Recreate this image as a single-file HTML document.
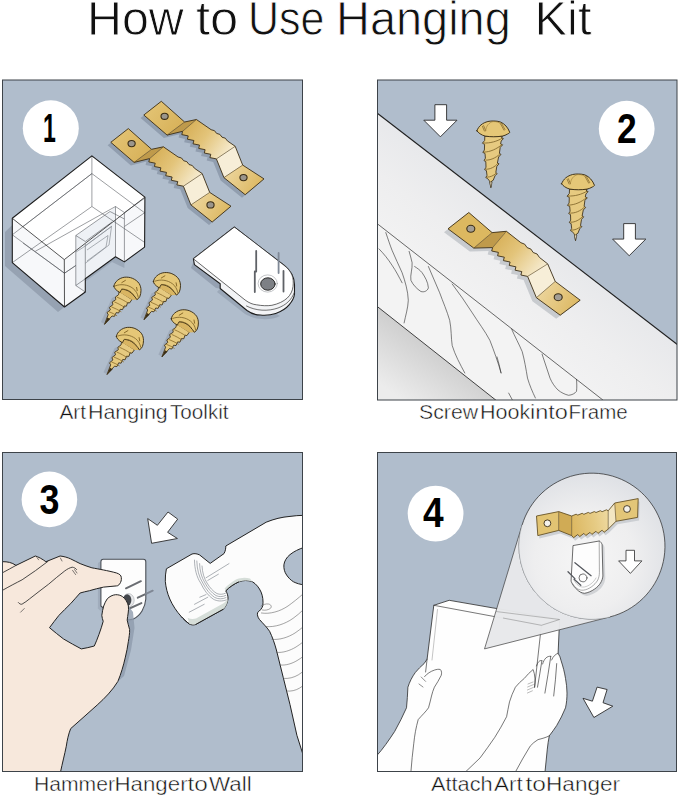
<!DOCTYPE html>
<html><head><meta charset="utf-8"><title>How to Use Hanging Kit</title>
<style>
html,body{margin:0;padding:0;background:#fff;}
body{width:679px;height:797px;overflow:hidden;font-family:"Liberation Sans",sans-serif;}
svg{display:block;position:absolute;left:0;top:0;}
.t{font-family:"Liberation Sans",sans-serif;fill:#111;}
.num{font-family:"Liberation Sans",sans-serif;font-weight:bold;fill:#000;}
.cap{font-family:"Liberation Sans",sans-serif;font-size:21px;fill:#111;stroke:#fff;stroke-width:0.45px;paint-order:fill stroke;}
.ttl{font-family:"Liberation Sans",sans-serif;font-size:48.5px;fill:#111;stroke:#fff;stroke-width:0.9px;paint-order:fill stroke;}
</style></head>
<body>
<svg width="679" height="797" viewBox="0 0 679 797">
<defs>
<clipPath id="c1"><rect x="2.5" y="80" width="300" height="319.5"/></clipPath>
<clipPath id="c2"><rect x="377.5" y="80" width="299.5" height="320"/></clipPath>
<clipPath id="c3"><rect x="2.5" y="452.5" width="300" height="319"/></clipPath>
<clipPath id="c4"><rect x="377.5" y="452.5" width="299" height="319"/></clipPath>
<linearGradient id="gmid" gradientUnits="userSpaceOnUse" x1="185" y1="125" x2="228" y2="155"><stop offset="0" stop-color="#d6ae55"/><stop offset="0.45" stop-color="#e3c47a"/><stop offset="1" stop-color="#f6ebcf"/></linearGradient>
<linearGradient id="gtab" gradientUnits="userSpaceOnUse" x1="228" y1="172" x2="258" y2="190"><stop offset="0" stop-color="#ecd49a"/><stop offset="1" stop-color="#dcb862"/></linearGradient>
<linearGradient id="gmidC" gradientUnits="userSpaceOnUse" x1="495" y1="235" x2="540" y2="272"><stop offset="0" stop-color="#d6ae55"/><stop offset="0.45" stop-color="#e3c47a"/><stop offset="1" stop-color="#f6ebcf"/></linearGradient>
<linearGradient id="gtabC" gradientUnits="userSpaceOnUse" x1="540" y1="292" x2="575" y2="312"><stop offset="0" stop-color="#ecd49a"/><stop offset="1" stop-color="#dcb862"/></linearGradient>
<linearGradient id="gframe" gradientUnits="userSpaceOnUse" x1="560" y1="190" x2="440" y2="345"><stop offset="0" stop-color="#e1e3e7"/><stop offset="0.5" stop-color="#eeeeef"/><stop offset="1" stop-color="#f6f6f6"/></linearGradient>
<linearGradient id="glow" gradientUnits="userSpaceOnUse" x1="430" y1="345" x2="395" y2="395"><stop offset="0" stop-color="#cfcfcf"/><stop offset="1" stop-color="#ececec"/></linearGradient>
<linearGradient id="gmidD" gradientUnits="userSpaceOnUse" x1="572" y1="525" x2="610" y2="518"><stop offset="0" stop-color="#dcb862"/><stop offset="0.6" stop-color="#e6cb84"/><stop offset="1" stop-color="#efdaa2"/></linearGradient>
<radialGradient id="gcirc" gradientUnits="userSpaceOnUse" cx="585" cy="560" r="85"><stop offset="0" stop-color="#f6f6f6"/><stop offset="0.6" stop-color="#eeeeef"/><stop offset="1" stop-color="#e0e2e6"/></radialGradient>
<linearGradient id="gtabL" gradientUnits="userSpaceOnUse" x1="150" y1="108" x2="178" y2="130"><stop offset="0" stop-color="#e2c272"/><stop offset="1" stop-color="#d8b25a"/></linearGradient>
</defs>
<rect width="679" height="797" fill="#fff"/>
<!-- TITLE -->
<g id="title">
<text class="ttl" x="87" y="34.5" textLength="96.71" lengthAdjust="spacingAndGlyphs">How</text>
<text class="ttl" x="196" y="34.5" textLength="42.28" lengthAdjust="spacingAndGlyphs">to</text>
<text class="ttl" x="248.0" y="34.5" textLength="76.47" lengthAdjust="spacingAndGlyphs">Use</text>
<text class="ttl" x="336" y="34.5" textLength="174.83" lengthAdjust="spacingAndGlyphs">Hanging</text>
<text class="ttl" x="534.5" y="34.5" textLength="56.99" lengthAdjust="spacingAndGlyphs">Kit</text>
</g>

<!-- PANEL 1 -->
<g id="p1" clip-path="url(#c1)">
<rect x="2.5" y="80" width="300" height="319.5" fill="#b0bdcc"/>
<!--P1-BOX-->
<!-- box shadow -->
<path d="M12.3,225 L5,232 L5,266 L58,312 L64.5,307 L12.3,262.6 Z" fill="#8d99aa" opacity="0.75"/>
<path d="M85.3,292 L82,296 L82,284 L112,262 L124.4,268 L124.4,262 L115.5,256.7 L85.3,278.8 Z" fill="#96a2b3" opacity="0.8"/>
<!-- box body -->
<g stroke-linejoin="round">
<path d="M91.9,155.9 L12.3,218.3 L12.3,262.6 L64.5,307 L85.3,292 L85.3,278.8 L115.5,256.7 L124.4,261.9 L144.6,247.1 L144.9,197.1 Z" fill="#f7f8fa"/>
<!-- top face -->
<path d="M91.9,155.9 L12.3,218.3 L64.3,259.6 L144.9,197.1 Z" fill="#ffffff"/>
<!-- notch interior tint -->
<path d="M75.8,235.5 L110.5,211 L115.5,206.6 L115.5,256.7 L85.3,278.8 L85.3,292 L75.8,285.5 Z" fill="#eef1f5"/>
<!-- thin wireframe lines -->
<g fill="none" stroke="#4b4f55" stroke-width="0.55">
<path d="M91.9,155.9 V206.5 L12.3,262.6 M91.9,206.5 L144.6,242.4"/>
<path d="M91.9,173.6 L12.3,234.8 M91.9,173.6 L144.9,213"/>
<path d="M23,226.5 L91.9,173.6"/>
<path d="M12.3,234.8 L64.5,273.2 L75.8,265.5"/>
<path d="M64.5,273.2 L75.8,265.5"/>
<path d="M23,243 L64.5,273.2"/>
<path d="M35.3,251.3 L115.5,206.5 M115.5,206.5 L124.4,212.5 L144.9,198 M115.5,206.5 V256.7 M124.4,212.5 V261.9 M124.4,226.5 L144.6,212.8"/>
<path d="M75.8,235.5 V285.5 L85.3,292 M75.8,285.5 L85.3,278.8 M85.3,244 V278.8"/>
<path d="M75.8,235.5 L85.3,241.5 L112,222 M75.8,235.5 L110,211.5 L124.4,219"/>
<path d="M64.5,259.6 L91.9,206.5" opacity="0.0"/>
<path d="M12.3,262.6 L91.9,206.5" opacity="0"/>
</g>
<!-- inner plate -->
<g fill="none" stroke="#8a8f96" stroke-width="0.7">
<path d="M85,246 L111.5,226.5 L109,245 L85,263.5"/>
<path d="M87,250 L108,235.5 L106,247 L87,261"/>
<path d="M76,252 L85.3,246 L112,226"/>
</g>
<!-- heavy outline -->
<path d="M91.9,155.9 L12.3,218.3 L12.3,262.6 L64.5,307 L85.3,292 L85.3,278.8 L115.5,256.7 L124.4,261.9 L144.6,247.1 L144.9,197.1 Z" fill="none" stroke="#1c1c1c" stroke-width="1.1"/>
<path d="M12.3,218.3 L64.3,259.6 L144.9,197.1 M64.3,259.6 L64.5,307" fill="none" stroke="#2a2a2a" stroke-width="0.8"/>
</g>
<!--P1-HANGERS-->
<g id="hangerA">
<path d="M143.8,115.0 L161.3,101.3 L184.6,122.0 L196.4,119.5 L211.1,129.7 L214.5,130.7 L216.6,133.4 L219.9,134.4 L222.0,137.2 L225.3,138.2 L227.4,140.9 L235.2,146.3 L242.7,165.1 L264.0,178.9 L245.2,194.7 L223.9,177.6 L216.4,158.9 L209.9,157.6 L210.8,154.3 L204.3,153.0 L205.1,149.7 L198.7,148.4 L199.5,145.1 L193.0,143.8 L193.9,140.5 L187.4,139.2 L188.2,135.9 L181.8,134.6 L182.6,131.3 L167.1,135.1 Z" transform="translate(-3.2,3)" fill="#8996a8" opacity="0.8"/>
<path d="M143.8,115.0 L161.3,101.3 L184.6,122.0 L167.1,135.1 Z" fill="url(#gtabL)"/>
<path d="M167.1,135.1 L184.6,122.0 L196.4,119.5 L182.6,131.3 Z" fill="#bf9a4b"/>
<path d="M196.4,119.5 L211.1,129.7 L214.5,130.7 L216.6,133.4 L219.9,134.4 L222.0,137.2 L225.3,138.2 L227.4,140.9 L235.2,146.3 L216.4,158.9 L209.9,157.6 L210.8,154.3 L204.3,153.0 L205.1,149.7 L198.7,148.4 L199.5,145.1 L193.0,143.8 L193.9,140.5 L187.4,139.2 L188.2,135.9 L181.8,134.6 L182.6,131.3 Z" fill="url(#gmid)"/>
<path d="M216.4,158.9 L235.2,146.3 L242.7,165.1 L223.9,177.6 Z" fill="#f7eed8"/>
<path d="M223.9,177.6 L242.7,165.1 L264.0,178.9 L245.2,194.7 Z" fill="url(#gtab)"/>
<path d="M143.8,115.0 L161.3,101.3 L184.6,122.0 L196.4,119.5 L211.1,129.7 L214.5,130.7 L216.6,133.4 L219.9,134.4 L222.0,137.2 L225.3,138.2 L227.4,140.9 L235.2,146.3 L242.7,165.1 L264.0,178.9 L245.2,194.7 L223.9,177.6 L216.4,158.9 L209.9,157.6 L210.8,154.3 L204.3,153.0 L205.1,149.7 L198.7,148.4 L199.5,145.1 L193.0,143.8 L193.9,140.5 L187.4,139.2 L188.2,135.9 L181.8,134.6 L182.6,131.3 L167.1,135.1 Z" fill="none" stroke="#3b2e16" stroke-width="0.9" stroke-linejoin="round"/>
<path d="M167.1,135.1 L184.6,122.0 M182.6,131.3 L196.4,119.5 M216.4,158.9 L235.2,146.3 M223.9,177.6 L242.7,165.1" fill="none" stroke="#5a4620" stroke-width="0.6"/>
<ellipse cx="164.6" cy="116.3" rx="3.6" ry="3.1" fill="#9a958c" stroke="#3b2e16" stroke-width="1.1"/>
<ellipse cx="243.5" cy="177.6" rx="3.6" ry="3.1" fill="#9a958c" stroke="#3b2e16" stroke-width="1.1"/>
</g>
<use href="#hangerA" transform="translate(-33,27.3)"/>

<!--P1-WHITE-->

<g id="whiteHanger" stroke-linejoin="round" stroke-linecap="round">
<!-- shadow -->
<path d="M193.4,262 L191,268 L216,288 L220.2,288.5 L220.2,283.7 Z" fill="#8e9aab" opacity="0.8"/>
<path d="M220.2,288.5 L217,292 L245,314 C255,320 270,321 280,316 L275.7,313.4 C266,316 255,315 247,310.5 Z" fill="#96a2b3" opacity="0.8"/>
<!-- body (all layers) -->
<path d="M234.2,227.2 L193.4,258.8 L194.4,264.6 L220.2,283.7 L220.2,288.5 L247,310.5 C251,313.5 256,315 260.4,315 C266,315.5 271,315 275.7,313.4 C281,311.5 286,308.5 289.1,304.8 C292,301.5 294,298 294.5,294.2 L294.5,284.7 C294.5,277 291,271 284.3,265.5 Z" fill="#f3f4f6" stroke="#1c1c1c" stroke-width="1.1"/>
<!-- top face -->
<path d="M234.2,227.2 L193.4,258.8 L245.1,300 C249,303 253,304.5 256.6,304.8 C262,305.8 267,306 271.9,305.3 C278,304 283.5,301.5 287.2,298.1 C290.5,295 292.5,291 293,286.6 C293.5,282 293.3,278.5 292,275.1 C290.5,271.5 288,268.3 284.3,265.5 Z" fill="#ffffff" stroke="#2a2a2a" stroke-width="0.7"/>
<!-- layer arc -->
<path d="M246.5,306 C256,311 268,311.5 278,308 C286,305 291.5,300 294.3,292.5" fill="none" stroke="#3a3a3a" stroke-width="0.7"/>
<path d="M194,261.8 L220.2,283.7" fill="none" stroke="#3a3a3a" stroke-width="0" />
<!-- hole -->
<ellipse cx="267.7" cy="283.5" rx="9.6" ry="8.6" fill="#fff" stroke="#9a9da2" stroke-width="0.6"/>
<ellipse cx="267.9" cy="284" rx="7.2" ry="6.2" fill="#7d8085" stroke="#2a2a2a" stroke-width="1"/>
<!-- nails -->
<g stroke="#5f6267" stroke-width="1.8" fill="none">
<path d="M256.2,251 V271.5 M254.8,271.5 V292"/>
<path d="M283.5,271 V291.5"/>
</g>
<path d="M278.6,253 V273" stroke="#7f8896" stroke-width="1.8" fill="none"/>
</g>

<!--P1-SCREWS-->

<g id="screw1" stroke-linejoin="round" stroke-linecap="round">
<!-- shadow -->
<path d="M116,296 L112,298 L101,322 L104.5,324.2 Z" fill="#8f9bac" opacity="0.55"/>
<!-- shaft -->
<path d="M119.5,291.5 L132,299.5 L129.5,303 L127.6,302.6 L126.4,306.2 L124,306 L122.6,309.6 L120.2,309.3 L118.6,313 L116.2,312.6 L114.4,316.4 L112,316 L104.5,324.4 L108.2,314.6 L107,312.6 L110.4,309.8 L109.4,307.4 L113,304.6 L112.2,302 L115.8,299.6 L115.4,297 L118.2,295 Z" fill="#e6ca80" stroke="#3b2e16" stroke-width="0.85"/>
<path d="M117.2,297.2 C121,298.8 125,301 128,303 M114.6,302 C118,303.4 122,305.6 124.6,307.4 M111.8,307 C115,308.2 118.4,310 121,311.6 M109.2,311.8 C112,312.8 114.6,314.2 116.8,315.6" fill="none" stroke="#8a6b2a" stroke-width="0.8"/>
<path d="M104.5,324.4 L107.4,317.6 L110.2,319 Z" fill="#3b2e16"/>
<!-- head -->
<path d="M119,292 L122,287 L130,288 L136.5,296 L136.9,299.7 L132,299.8 Z" fill="#d9b562"/>
<path d="M113.9,286.2 C114.4,283.6 115.6,282 117.3,280.5 C119.4,278.6 122,277.5 124.8,277.2 C127.4,277 130,277.3 132.4,278.3 C135.2,279.5 137.6,281.2 139.2,283.6 C140.4,285.6 141,288 141,290.3 C141,292.4 140.6,294.6 139.9,296.4 C139.2,297.8 138.2,299 136.9,299.7 C135.8,297.8 134.6,296.2 133.1,294.8 C131.8,293.3 130.4,292 128.6,291.1 C126.5,290 124.2,289.3 121.8,289.2 C121,290.2 120.4,291.4 120,292.6 C118,291.4 116.3,290.4 115.1,288.8 C114.5,288 114.1,287.2 113.9,286.2 Z" fill="#e5c777" stroke="#3b2e16" stroke-width="0.95"/>
<path d="M115.4,285.8 C121,283.6 128,284.6 133,288.4 C136,290.8 137.6,293.6 138.2,297" fill="none" stroke="#7a5f26" stroke-width="0.8"/>
<path d="M121.8,289.2 C126,288.6 131,291 133.8,295" fill="none" stroke="#7a5f26" stroke-width="0.7"/>
<path d="M121.8,282.6 L125.4,280.4 M136.6,287.4 L137.2,290.6" fill="none" stroke="#8a6b2a" stroke-width="1"/>
</g>
<use href="#screw1" transform="translate(39.5,-4.6)"/>
<use href="#screw1" transform="translate(57.4,32.6)"/>
<use href="#screw1" transform="translate(2.5,50.2)"/>

<circle cx="50.8" cy="128.3" r="28" fill="#fff"/>
<text class="num" x="42.9" y="142.2" font-size="41.5" textLength="12.83" lengthAdjust="spacingAndGlyphs">1</text>
</g>
<rect x="2.5" y="80" width="300" height="319.5" fill="none" stroke="#3d4349" stroke-width="1"/>

<!-- PANEL 2 -->
<g id="p2" clip-path="url(#c2)">
<rect x="377.5" y="80" width="299.5" height="320" fill="#b0bdcc"/>
<!--P2-MAIN-->
<!-- frame top face -->
<path d="M377,113 L677.5,344.6 L677.5,401 L377,401 Z" fill="url(#gframe)"/>
<!-- grain face -->
<path d="M377,223.5 L603.5,400.5 L496.3,400.5 L377,306.3 Z" fill="#f3f3f3"/>
<!-- lower triangle -->
<path d="M377,306.3 L496.3,400.5 L377,400.5 Z" fill="url(#glow)"/>
<g fill="none" stroke="#2b2b2b" stroke-width="0.6" stroke-linecap="round" stroke-linejoin="round">
<path d="M377,223.5 L603.5,400.5" stroke-width="0.7"/>
<path d="M377,306.3 L496.3,400.5" stroke="#2f2f2f" stroke-width="0.9"/>
<!-- wood grain -->
<path d="M385.8,232.6 C388,239 390,245 392,250.2 C395,258 399,265 402.1,272.7 C405,281 408,291 408.3,300.3 C408,308 405.5,316 404.1,322.9"/>
<path d="M379,248.9 C384,254 388,259 392,265.2 C396,271 399,277 402.1,282.8"/>
<path d="M409.1,251.4 C410,255 411.5,259 412.1,262.7 C412.6,269 410,275 410.9,280.3 C413,285 417,289 420.9,291.5 C424,292.5 427.5,291 428.4,287.8 C428,282 425,277 422.1,272.7 C420,270 417,268 414.6,266.5"/>
<path d="M428.4,266.5 C432,275 436,284 439.7,292.8 C443,302 447,311 449.7,320.4 C451.5,329 451,338 452.2,345.5 C455,355 460,364 464.8,373"/>
<path d="M452.2,284 C459,293 466,303 472.3,312.9 C478,322 485,331 489.9,340.4 C494,351 498,362 501.1,373"/>
<path d="M511.6,329 C515,337 519,344 522.2,351.6 C524.5,360 526,369 527.5,378.1 C529.5,385 532.5,392 535.4,398"/>
<path d="M542.1,354.2 C545,362 547,370 550,378.1 C552,383 555,387 558,390 C561,392.5 565,394.5 568.6,395.3 C572,395 575,393.5 576.5,391.3 C577,387 576.8,383 576.5,379.4"/>
<path d="M497,356.9 C498.5,362 500,367.5 501,372.8"/>
<path d="M508.7,393.1 L512.4,400"/>
</g>
<!-- diagonal top edge -->
<path d="M377,113 L677.5,344.6" fill="none" stroke="#1f1f1f" stroke-width="1.1"/>
<g id="hangerC">
<path d="M448.0,228.8 L468.8,212.5 L492.1,232.6 L506.4,231.3 L520.9,242.7 L524.7,244.2 L527.1,247.6 L530.9,249.1 L533.2,252.5 L537.1,254.0 L539.4,257.4 L547.7,263.9 L555.2,281.4 L580.2,300.2 L560.2,315.2 L536.4,297.7 L527.6,276.4 L520.9,275.0 L521.8,271.6 L515.1,270.2 L515.9,266.8 L509.2,265.4 L510.1,262.0 L503.4,260.6 L504.3,257.2 L497.6,255.8 L498.4,252.4 L491.7,251.0 L492.6,247.6 L473.8,248.1 Z" transform="translate(-4,3.5)" fill="#c3c6cb" opacity="0.9"/>
<path d="M448.0,228.8 L468.8,212.5 L492.1,232.6 L473.8,248.1 Z" fill="#dcb860"/>
<path d="M473.8,248.1 L492.1,232.6 L506.4,231.3 L492.6,247.6 Z" fill="#bf9a4b"/>
<path d="M506.4,231.3 L520.9,242.7 L524.7,244.2 L527.1,247.6 L530.9,249.1 L533.2,252.5 L537.1,254.0 L539.4,257.4 L547.7,263.9 L527.6,276.4 L520.9,275.0 L521.8,271.6 L515.1,270.2 L515.9,266.8 L509.2,265.4 L510.1,262.0 L503.4,260.6 L504.3,257.2 L497.6,255.8 L498.4,252.4 L491.7,251.0 L492.6,247.6 Z" fill="url(#gmidC)"/>
<path d="M527.6,276.4 L547.7,263.9 L555.2,281.4 L536.4,297.7 Z" fill="#f7eed8"/>
<path d="M536.4,297.7 L555.2,281.4 L580.2,300.2 L560.2,315.2 Z" fill="url(#gtabC)"/>
<path d="M448.0,228.8 L468.8,212.5 L492.1,232.6 L506.4,231.3 L520.9,242.7 L524.7,244.2 L527.1,247.6 L530.9,249.1 L533.2,252.5 L537.1,254.0 L539.4,257.4 L547.7,263.9 L555.2,281.4 L580.2,300.2 L560.2,315.2 L536.4,297.7 L527.6,276.4 L520.9,275.0 L521.8,271.6 L515.1,270.2 L515.9,266.8 L509.2,265.4 L510.1,262.0 L503.4,260.6 L504.3,257.2 L497.6,255.8 L498.4,252.4 L491.7,251.0 L492.6,247.6 L473.8,248.1 Z" fill="none" stroke="#3b2e16" stroke-width="0.9" stroke-linejoin="round"/>
<path d="M473.8,248.1 L492.1,232.6 M492.6,247.6 L506.4,231.3 M527.6,276.4 L547.7,263.9 M536.4,297.7 L555.2,281.4" fill="none" stroke="#5a4620" stroke-width="0.6"/>
<ellipse cx="470.8" cy="228.8" rx="4" ry="3.5" fill="#a39e95" stroke="#3b2e16" stroke-width="1.1"/>
<ellipse cx="558.2" cy="297.2" rx="4" ry="3.5" fill="#a39e95" stroke="#3b2e16" stroke-width="1.1"/>
</g>

<!-- arrows -->
<path id="arrowD" d="M434.9,104.7 H446.6 V120.2 H457 L440.4,136.8 L423.8,120.2 H434.9 Z" fill="#fff" stroke="#2b2b2b" stroke-width="0.9" stroke-linejoin="miter"/>
<use href="#arrowD" transform="translate(188.8,118.9)"/>
<!--P2-SCREWS-->

<g id="screwV" stroke-linejoin="round" stroke-linecap="round">
<!-- shaft with thread bumps -->
<path d="M485.2,136.1 L502.3,136.1 L501.6,138 L503.4,138.6 L501.2,141 L500.6,144 L502.6,144.8 L500.2,147.4 L499.4,153.4 L501,154.4 L498.6,157 L497.4,163 L499,163.8 L496.8,166.4 L495.8,172.6 L497.2,173.6 L495,175.8 L493.2,180.3 L491.6,181.2 L490.8,187.4 L489.6,181.2 L489,180.3 L487.4,178.4 L485.8,177.6 L487,175.4 L486.4,170.6 L484.6,169.6 L486,167.2 L485.8,161.6 L484,160.6 L485.4,158.2 L485,153.4 L482.8,152.4 L484.4,150 L484.6,144.4 L482.4,143.2 L484.4,140.8 Z" fill="#e6ca80" stroke="#3b2e16" stroke-width="0.85"/>
<path d="M483.7,143 C490,143.4 497,141.4 502.3,138.2 M484.2,152.1 C490,152 497,149 501.8,144.6 M485.8,160.1 C490,160.4 496,158 499.6,154.2 M486.3,169.2 C490,169.4 495,167 498,163.3 M487.4,177.1 C490,177.2 493.6,175.8 495.9,173.4" fill="none" stroke="#7a5f26" stroke-width="0.8"/>
<path d="M490.8,187.4 L489.8,182 L491.8,182 Z" fill="#f4ead0" stroke="#3b2e16" stroke-width="0.5"/>
<!-- head -->
<path d="M476.9,130.8 C477.8,128.4 479.2,126.4 481,124.9 C483,123.2 485.4,122.2 487.9,121.5 C489.8,121.1 491.8,120.9 493.8,121 C496,121 498.2,121.3 500.2,121.9 C502.4,122.8 504.4,124.2 506,126 C507.6,127.8 508.9,130 509.8,132.4 C509.2,133.1 508.5,133.6 507.6,134 C506,135 504.2,135.7 502.3,136.1 C496.6,137 490.8,137 485.2,136.1 C483.3,135.6 481.5,134.8 479.9,133.7 C478.7,132.9 477.7,131.9 476.9,130.8 Z" fill="#e5c777" stroke="#3b2e16" stroke-width="0.95"/>
<path d="M482.4,126.3 L484.4,131 M483.6,125.6 L485.6,130.4 M500.4,123.6 L504,130.2 M501.6,123.4 L505,129.6" fill="none" stroke="#7a5f26" stroke-width="0.7"/>
<path d="M485.6,131 C486,126 489,122.4 493,121.6 C497,121.4 499.6,122.6 500.4,123.6" fill="none" stroke="#9a7a34" stroke-width="0.6"/>
</g>
<use href="#screwV" transform="translate(84.7,53)"/>


<circle cx="626.7" cy="128.7" r="27.9" fill="#fff"/>
<text class="num" x="616.9" y="143" font-size="42.2" textLength="19.67" lengthAdjust="spacingAndGlyphs">2</text>
</g>
<rect x="377.5" y="80" width="299.5" height="320" fill="none" stroke="#3d4349" stroke-width="1"/>

<!-- PANEL 3 -->
<g id="p3" clip-path="url(#c3)">
<rect x="2.5" y="452.5" width="300" height="319" fill="#b0bdcc"/>
<!--P3-MAIN-->
<!-- white hanger on wall -->
<path d="M103.3,559.3 H143.4 C144.8,559.3 145.8,560.3 145.8,561.8 V599 C145.2,607.5 140.5,615.6 133.3,619 C128,620.4 122,620 116,619 L100.9,606 V561.8 C100.9,560.3 101.9,559.3 103.3,559.3 Z" fill="#8f9bac" opacity="0.5" transform="translate(-3,2.5)"/>
<path d="M103.3,559.3 H143.4 C144.8,559.3 145.8,560.3 145.8,561.8 V599 C145.2,607.5 140.5,615.6 133.3,619 C128,620.4 122,620 116,619 L100.9,606 V561.8 C100.9,560.3 101.9,559.3 103.3,559.3 Z" fill="#fdfdfd" stroke="#4a4f56" stroke-width="1.1"/>
<ellipse cx="128.6" cy="600.2" rx="5.6" ry="6.6" fill="#e8e9eb" stroke="#9a9da2" stroke-width="0.5"/>
<ellipse cx="127.2" cy="600.1" rx="4.2" ry="5.9" fill="#44474c"/>
<g stroke="#6a6d72" stroke-width="2" fill="none" stroke-linecap="round">
<path d="M126,588.3 L140.9,581.2 M137.8,597.7 L146,593.8 M127.2,609.5 L141.4,603.1"/>
</g>
<path d="M146,593.8 L152.7,590.7" stroke="#7f8794" stroke-width="2" fill="none" stroke-linecap="round"/>
<!-- thumb shadow -->
<path d="M128.4,606 L133,612 L134.5,628 L131,650 L124,676 L117.9,681.4 C121,673.8 123.4,665.8 125.2,657.9 L128.4,641.3 L129.6,629.5 L127.2,620.1 Z" fill="#8f9bac" opacity="0.8"/>
<!-- hand -->
<path d="M-2,561.5 L2.8,561.7 C7,561.6 12,562.4 16,565.4 L35.3,556 C38,556.6 43,559.5 45.9,561.7 L60.1,556 C64,556.4 68,557.6 70.7,558.9 C74,560.4 77,562.2 80.1,563.6 C84,565.2 88,566.6 91.9,567.8 C98,569 108,570.6 116.6,573 C119.4,574 121.2,575.2 121.3,577.5 C121.6,580 121,582.2 119.6,584 C118.6,585.4 117.6,585.9 116.6,585.9 C112,586.4 108,586.6 103.7,587.1 C99,588 94,589.4 89.5,590.7 C86,591.4 83,592.2 80.1,593 C77,596.4 74,600 70.7,603.6 C66.6,607.6 62.6,611.6 58.9,615.4 C55.6,619.4 52.6,623.6 49.5,627.7 C54,631.6 59,635.4 63.6,639 C69.4,642.4 75.4,645.8 81.3,648.9 C85.6,648.2 90,647.2 94.3,646 C96,642.2 97.6,638.2 99,634.3 C100.6,630 102,625.6 103.2,621.3 C102.6,619.4 102,617.4 101.8,615.4 C102.2,612.2 102.8,609 103.7,606 C104.6,603.4 105.8,601 107.2,598.9 C109.4,596.6 112.4,595 115.5,594.7 C118,594.6 120.6,595.2 122.5,596.6 C125.4,598.8 127.6,602.2 128.4,606 C129,610.6 127.6,615.4 127.2,620.1 C127.6,623.2 129,626.4 129.6,629.5 C129.8,633.4 129,637.4 128.4,641.3 C127.6,646.8 126.6,652.4 125.2,657.9 C123.4,665.8 121,673.8 117.9,681.4 C112.4,690.4 105,698 97.2,705 C88.6,713 79.4,720.6 70.7,728.6 C68.4,734.2 67.2,740.2 66.3,746.2 C64.6,754.6 62.4,763 60.4,772.5 L-2,772.5 Z" fill="#f7e8dc" stroke="#222" stroke-width="1" stroke-linejoin="round"/>
<g fill="none" stroke="#2a2a2a" stroke-width="0.85" stroke-linecap="round">
<path d="M2.9,590.1 C10,586 16,583 22.1,579.8 C31,574 40,567.5 47.9,561.4"/>
<path d="M18.4,602.6 C19.5,604 21,604.6 22.1,604.1 C25,602.6 27,600.8 29.5,598.9 C36,594 42,589 48.6,584.2 C54,579.6 59.4,575 64.8,570.9 C67,569.2 69.6,567.8 72.2,567.2 C74,567.4 75.6,568.2 76.6,569.5"/>
<path d="M20.6,612.2 L24.3,608.5 M72.6,570.4 L75.6,574.6 M74.6,569.6 L77,573 M37,557.6 L38.6,559.8 M60.4,558 L62,561" stroke-width="0.6"/>
<path d="M16,565.4 C12,567.6 7,570.4 2.8,572.6"/>
</g>
<!-- hammer -->
<path d="M166.4,568.8 L192,554 C194.6,553.2 197.4,553.8 199.7,555 L210.2,563.4 L224,553.6 C225.4,551.2 225.8,548.4 225.8,546 L266.2,522.2 C274,519 282,517 290,516.4 C294.4,515.8 299,515.4 304,515.3 L304,547.4 C299,549 294,551.4 290,554.6 C286.6,557.4 284.4,561 283.9,564.8 C283.6,568.6 284.6,572.2 286.6,575 C288.4,577.8 290.8,580.2 293.5,581.8 C296.6,583.4 300,584.4 304,584.8 L304,757.8 L296.9,735.3 L290,704.6 L283.2,677.3 L276.4,650 C274.6,643.4 272.4,637 269.6,631.3 C266.6,626.8 262.6,623.2 259.4,619.4 C257.8,617.2 257,614.8 257.6,612.5 C260,610.6 262,608.4 262.8,605.7 C263.4,601 262.8,596.2 261.1,592.1 C259.2,587.8 256.2,584 252.5,581.8 C248,580 243,580.2 238.9,581.8 C234,584 229.4,587 225.8,590.8 C227.4,593.4 228.2,596.2 228,598.9 C227.6,602.8 225.8,606.4 223.5,609.1 L195.4,624.6 C193.4,625.2 191,625 189.4,624 C186,621.6 183.6,619 181.3,616.6 C176.6,611.4 172.6,605.4 169.8,599 C167.4,593.4 165.8,587.4 165.3,581.3 C165.2,577 165.6,572.8 166.4,568.8 Z" fill="#fcfcfc" stroke="#222" stroke-width="1" stroke-linejoin="round"/>
<!-- shading on hammer -->
<path d="M189.4,624 L195.4,624.6 L223.5,609.1 C225.8,606.4 227.6,602.8 228,598.9 L224,603 L196,618.5 C193,619.4 190,619 187.6,617.8 Z" fill="#d6ded9"/>
<path d="M225.8,590.8 C229.4,587 234,584 238.9,581.8 C243,580.2 248,580 252.5,581.8 L250,578.4 C245,577 240,577.6 236,579.6 C231.6,582 227.6,585.4 224.6,588.6 Z" fill="#d6ded9"/>
<g fill="none" stroke="#8a8f96" stroke-width="0.7" stroke-linecap="round">
<path d="M194.5,560.1 C194.6,569 196.6,577 200.7,583.1 C204,590 208,595.6 213.1,599 C217,601.4 222,601.6 226.3,599.9"/>
<path d="M196.8,561 C197,569.4 199,577 202.8,583 C206,589.4 210,594.4 214.6,597.4 C218,599.2 222.4,599.4 226,597.6"/>
<path d="M199.6,563.6 C199.8,571 201.6,577.6 205,583 C208,588.6 211.6,592.8 216,595.6 C219,597 222.6,597 225.8,595.4"/>
<path d="M202,566 C202.4,572.6 204,578.4 207,583 C209.8,587.6 213,591.4 217,593.6 C219.6,594.6 222.6,594.6 225.4,593.2"/>
<path d="M189.2,612.2 L204.2,604.3 M194.5,604.3 L207.8,597.2 M199.8,597.2 L206,594.6 M206,577.8 L229,563.6 M207.8,580.4 L218.4,574.2"/>
</g>
<path d="M189.4,624 C186,621.6 183.6,619 181.3,616.6 M195.4,624.6 L223.5,609.1 M225.8,590.8 C229.4,587 234,584 238.9,581.8" fill="none" stroke="#222" stroke-width="1"/>
<!-- grip ridges -->
<g fill="none" stroke="#5a5a5a" stroke-width="0.55" stroke-linecap="round">
<path d="M261,606 C263,604.6 266,603.6 268.5,604 C271,604.6 272,606.4 270.6,608.2 C268.6,610 265,610.6 262.4,610"/>
<path d="M261.4,613 C270,614.4 280,611.4 288,606 C293,602.4 298,598.4 303,594"/>
<path d="M266,626.6 C275,627.4 285,624 293,618.4 C296.6,615.8 300,613 303,610"/>
<path d="M272,639.4 C280,640 288,637.4 295,633 C298,631 300.6,629 303,627"/>
<path d="M276.4,652.4 C283,653 290,650.6 296,647 C298.6,645.4 301,643.6 303,642"/>
<path d="M280,665 C286,665.6 292,663.6 297,660.6 C299.4,659.2 301.4,657.8 303,656.6"/>
<path d="M283.4,678.4 C288.6,679 294,677.4 298.4,674.8 L303,671.6"/>
<path d="M286.6,691 C291,691.6 295.6,690.4 299.4,688.2 L303,685.8"/>
</g>
<!-- arrow -->
<path d="M168,512 L177.7,519.1 L167.6,532.3 L177.4,538.5 L151.6,543.3 L147.7,518.6 L157.4,525.3 Z" fill="#fff" stroke="#2b2b2b" stroke-width="0.9" stroke-linejoin="miter"/>

<circle cx="49.4" cy="499.4" r="27.8" fill="#fff"/>
<text class="num" x="39.4" y="513.5" font-size="42.4" textLength="19.93" lengthAdjust="spacingAndGlyphs">3</text>
</g>
<rect x="2.5" y="452.5" width="300" height="319" fill="none" stroke="#3d4349" stroke-width="1"/>

<!-- PANEL 4 -->
<g id="p4" clip-path="url(#c4)">
<rect x="377.5" y="452.5" width="299" height="319" fill="#b0bdcc"/>
<!--P4-MAIN-->
<!-- canvas + arms (white union) -->
<path d="M376,756.5 C383,749 389,740 394.7,731.4 C399,723.6 403,715.8 406.5,707.8 C407.4,701 407.4,694 407.9,687.2 C409.6,681.8 412.2,676.8 415.3,672.5 C418,669.2 421,666.2 424.1,663.6 L427.1,659.2 L433.8,605.3 L449.2,600.3 L559.6,619.5 L558.1,653.3 C559.6,655.4 560.6,658 561.1,660.7 C563,666.4 564.6,672.4 565.5,678.4 C566.4,683.2 567,688.2 567,693.1 C567,698 566.6,703 565.5,707.8 C563,714 560,720 556.7,725.5 C554.4,729 551.8,732.6 549.3,735.8 C548.4,740.2 547.8,744.6 547.3,749.1 L544.9,773 L376,773 Z" fill="#fefefe" stroke="#2a2a2a" stroke-width="0.8" stroke-linejoin="round"/>
<g fill="none" stroke="#2f2f2f" stroke-width="0.65" stroke-linecap="round" stroke-linejoin="round">
<!-- canvas edges -->
<path d="M433.8,605.3 L541.4,625.3 L559.6,619.5 M541.4,625.3 L534.6,687.2"/>
<path d="M437.5,609.5 L432,660" stroke="#8a8a8a" stroke-width="0.5"/>
<!-- left hand -->
<path d="M427.1,659.2 L425.6,672 M424.6,676.6 C427,673.6 430.6,671.4 434.4,670.1 C436.4,669.4 438.6,669 440.3,669.5 C441.8,671 441.8,673.4 441.2,675.4 C439.4,679.6 436.6,683.4 434.4,687.2 C433.2,690 432.2,693 431.5,696 C430.6,700 429.6,704 428.5,707.8 C425.6,712 421.6,715.6 418.2,719.6 C416,727.4 414.6,735.2 413.8,743.2 C412.6,752.8 411.6,762.4 410.9,772"/>
<path d="M421.2,677 L425.6,681.4 M419,684 L423,687" stroke-width="0.55"/>
<!-- right hand thumb / arm left edge -->
<path d="M534.6,687.2 C535.4,681 535.2,675 533.1,669.5 C530,672 527,675 524.3,678.4 C521,681 518,684 515.4,687.2 C513,692 511,696.8 509.5,701.9 C508.4,706.8 507.6,711.8 506.6,716.7 C503,723.8 499,730.6 494.8,737.3 C490,744.4 485,751.2 480.1,757.9 C475,762.8 470,767.4 465.4,772"/>
<path d="M549.3,735.8 C546,737.6 542,738.6 538,739.6 C535,741.4 532.4,743.6 530.2,746.1 C525,754.6 520,763.2 515.4,772"/>
<!-- right fingers -->
<path d="M541.9,660.7 C540.6,669.4 539,678.4 537.5,687.2 M550.8,656.3 C549,668.6 547,681 544.9,693.1 M556.7,663.6 C556,674.4 555,685.2 553.7,696"/>
<path d="M536.5,666 C537.6,662.4 539.6,659.6 541.9,660.7 M542.6,664 C544,659 547,655.6 550.8,656.3 M551.6,660 C553,656.4 555.6,654 558.1,653.3"/>
<path d="M528,684 L533,682 M527.6,687 L533.4,684.6 M527.4,690 L533.4,687.4 M527.4,693 L532.4,690.8" stroke-width="0.45" stroke="#666"/>
</g>
<!-- cone -->
<path d="M484.5,648.9 L522.1,525 A73,73 0 0 0 610,616.9 Z" fill="#e7e8ea" fill-opacity="0.97" stroke="#2f2f2f" stroke-width="0.65" stroke-linejoin="round"/>
<g fill="none" stroke="#6a6a6a" stroke-width="0.5" opacity="0.8">
<path d="M503,618 L541.4,625.3 L559.6,619.5 M496,611.5 L559.6,619.5" />
</g>
<!-- magnifier circle -->
<circle cx="592" cy="546.2" r="73" fill="url(#gcirc)"/>
<path d="M522.1,525 A73,73 0 1 1 610,616.9" fill="none" stroke="#2f2f2f" stroke-width="0.75"/>
<path d="M522.1,525 A73,73 0 0 0 610,616.9" fill="none" stroke="#b9bcc0" stroke-width="0.5"/>
<g id="hangerD">
<path d="M536.5,516.0 L558.7,511.6 L571.7,516.0 L576.1,514.2 L577.8,515.1 L582.2,513.3 L583.9,514.3 L588.3,512.4 L590.0,513.4 L594.3,511.6 L596.0,512.5 L600.4,510.7 L602.1,511.7 L606.5,509.8 L608.2,510.8 L614.7,503.0 L638.2,498.6 L637.6,517.4 L616.0,521.3 L608.2,529.1 L604.1,532.3 L602.1,530.2 L598.0,533.4 L596.0,531.3 L591.9,534.4 L590.0,532.4 L585.8,535.5 L583.9,533.4 L579.7,536.6 L577.8,534.5 L573.6,537.7 L571.7,535.6 L558.7,530.4 L537.8,535.6 Z" transform="translate(1.5,3)" fill="#c9ccd0" opacity="0.9"/>
<path d="M536.5,516.0 L558.7,511.6 L558.7,530.4 L537.8,535.6 Z" fill="#e2c473"/>
<path d="M558.7,511.6 L571.7,516.0 L571.7,535.6 L558.7,530.4 Z" fill="#d0ab55"/>
<path d="M571.7,516.0 L576.1,514.2 L577.8,515.1 L582.2,513.3 L583.9,514.3 L588.3,512.4 L590.0,513.4 L594.3,511.6 L596.0,512.5 L600.4,510.7 L602.1,511.7 L606.5,509.8 L608.2,510.8 L608.2,529.1 L604.1,532.3 L602.1,530.2 L598.0,533.4 L596.0,531.3 L591.9,534.4 L590.0,532.4 L585.8,535.5 L583.9,533.4 L579.7,536.6 L577.8,534.5 L573.6,537.7 L571.7,535.6 Z" fill="url(#gmidD)"/>
<path d="M608.2,510.8 L614.7,503.0 L616.0,521.3 L608.2,529.1 Z" fill="#f3e6c2"/>
<path d="M614.7,503.0 L638.2,498.6 L637.6,517.4 L616.0,521.3 Z" fill="#e3c678"/>
<path d="M536.5,516.0 L558.7,511.6 L571.7,516.0 L576.1,514.2 L577.8,515.1 L582.2,513.3 L583.9,514.3 L588.3,512.4 L590.0,513.4 L594.3,511.6 L596.0,512.5 L600.4,510.7 L602.1,511.7 L606.5,509.8 L608.2,510.8 L614.7,503.0 L638.2,498.6 L637.6,517.4 L616.0,521.3 L608.2,529.1 L604.1,532.3 L602.1,530.2 L598.0,533.4 L596.0,531.3 L591.9,534.4 L590.0,532.4 L585.8,535.5 L583.9,533.4 L579.7,536.6 L577.8,534.5 L573.6,537.7 L571.7,535.6 L558.7,530.4 L537.8,535.6 Z" fill="none" stroke="#5e4a1f" stroke-width="0.85" stroke-linejoin="round"/>
<path d="M558.7,511.6 L558.7,530.4 M571.7,516 L571.7,535.6 M608.2,510.8 L608.2,529.1 M614.7,503 L616,521.3" fill="none" stroke="#5a4620" stroke-width="0.6"/>
<circle cx="547.4" cy="523.3" r="3.4" fill="#f4f2ec" stroke="#3b2e16" stroke-width="0.9"/>
<circle cx="627" cy="509" r="3.4" fill="#f4f2ec" stroke="#3b2e16" stroke-width="0.9"/>
</g>

<!-- white hanger small -->
<g stroke-linejoin="round" stroke-linecap="round">
<path d="M573.4,545.5 L599.2,541 C600.6,541.6 601.6,543 602.1,544.7 L602.9,576 C602.4,581 599.6,585.6 594.8,588.9 C591.6,591.2 588,592.8 584.5,593.3 C581.6,593 579,591.6 577.1,589.6 C574.4,587.4 572.4,584.6 571.2,581.5 Z" fill="#c9ccd0" opacity="0.8" transform="translate(2.4,2.6)"/>
<path d="M573.4,545.5 L599.2,541 C600.6,541.6 601.6,543 602.1,544.7 L602.9,576 C602.4,581 599.6,585.6 594.8,588.9 C591.6,591.2 588,592.8 584.5,593.3 C581.6,593 579,591.6 577.1,589.6 C574.4,587.4 572.4,584.6 571.2,581.5 Z" fill="#fdfdfd" stroke="#2f2f2f" stroke-width="0.7"/>
<path d="M572.6,583.6 C575,588 579,590.6 583.4,590.2 C589,589.4 594.6,585.4 597.8,580 C598.8,577.6 599.4,575.4 599.4,572.4 L599.2,541" fill="none" stroke="#666" stroke-width="0.55"/>
<path d="M574,580 C576.4,585 580,587.6 584.4,587 C589,586 593.6,582.6 596,578" fill="none" stroke="#999" stroke-width="0.5"/>
<circle cx="583" cy="577.9" r="4" fill="#fdfdfd" stroke="#3a3a3a" stroke-width="0.7"/>
<path d="M574.9,562.7 L591.1,575.7 M568,571.7 L574.9,578.6 M574.1,579.3 L580.8,585.2" fill="none" stroke="#55585e" stroke-width="1.3"/>
</g>
<!-- arrow in circle -->
<path d="M626,550.3 H634.5 V560.9 H641.9 L630.4,573.4 L618.6,560.9 H626 Z" fill="#fff" stroke="#2b2b2b" stroke-width="0.8"/>
<!-- arrow lower right -->
<path d="M597.1,687.1 L607.1,689.5 L603,702.7 L612.8,706.2 L593.9,717.5 L583,698.3 L592.4,701.2 Z" fill="#fff" stroke="#2b2b2b" stroke-width="0.9"/>

<circle cx="435.6" cy="513.6" r="27.9" fill="#fff"/>
<text class="num" x="423.1" y="526.7" font-size="42.2" textLength="20.65" lengthAdjust="spacingAndGlyphs">4</text>
</g>
<rect x="377.5" y="452.5" width="299" height="319" fill="none" stroke="#3d4349" stroke-width="1"/>

<!-- CAPTIONS -->
<g id="caps">
<text class="cap" x="59.5" y="419.3" textLength="26.58" lengthAdjust="spacingAndGlyphs">Art</text>
<text class="cap" x="88.0" y="419.3" textLength="79.7" lengthAdjust="spacingAndGlyphs">Hanging</text>
<text class="cap" x="170.0" y="419.3" textLength="58.58" lengthAdjust="spacingAndGlyphs">Toolkit</text>
<text class="cap" x="419.0" y="419.4" textLength="59.07" lengthAdjust="spacingAndGlyphs">Screw</text>
<text class="cap" x="480.0" y="419.4" textLength="50.22" lengthAdjust="spacingAndGlyphs">Hook</text>
<text class="cap" x="530.0" y="419.4" textLength="37.86" lengthAdjust="spacingAndGlyphs">into</text>
<text class="cap" x="568.5" y="419.4" textLength="59.24" lengthAdjust="spacingAndGlyphs">Frame</text>
<text class="cap" x="34.0" y="791.4" textLength="81.0" lengthAdjust="spacingAndGlyphs">Hammer</text>
<text class="cap" x="114.5" y="791.4" textLength="73.06" lengthAdjust="spacingAndGlyphs">Hanger</text>
<text class="cap" x="187.5" y="791.4" textLength="20.29" lengthAdjust="spacingAndGlyphs">to</text>
<text class="cap" x="209.0" y="791.4" textLength="42.71" lengthAdjust="spacingAndGlyphs">Wall</text>
<text class="cap" x="431.0" y="791.3" textLength="61.67" lengthAdjust="spacingAndGlyphs">Attach</text>
<text class="cap" x="494.0" y="791.3" textLength="28.66" lengthAdjust="spacingAndGlyphs">Art</text>
<text class="cap" x="525.5" y="791.3" textLength="20.44" lengthAdjust="spacingAndGlyphs">to</text>
<text class="cap" x="546.0" y="791.3" textLength="74.14" lengthAdjust="spacingAndGlyphs">Hanger</text>
</g>
</svg>
</body></html>
